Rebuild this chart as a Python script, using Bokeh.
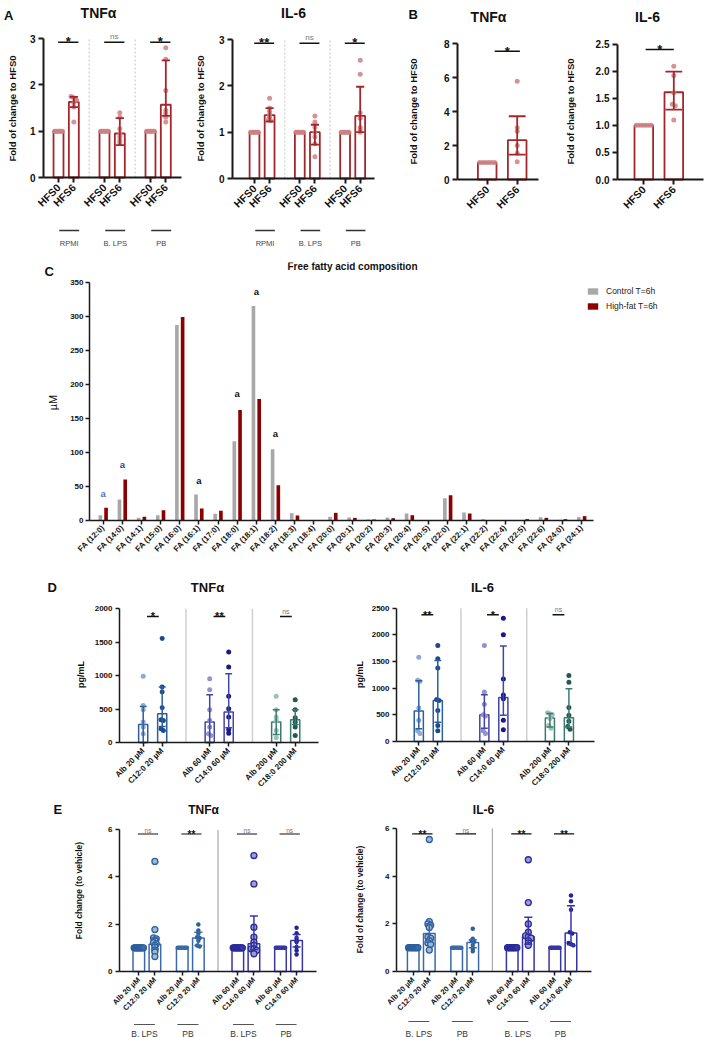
import numpy as np
from bokeh.plotting import figure
from bokeh.models import (Range1d, FixedTicker, Label, Legend, LegendItem,
                          PrintfTickFormatter)
from bokeh.layouts import row, column
from bokeh.embed import file_html
from bokeh.resources import INLINE
from bokeh.core.properties import value

FONT = "Liberation Sans"

# ======================= DATA =======================
# ---- Panel A (fold of change to HFS0) ----
A_groups = ["RPMI", "B. LPS", "PB"]
A_ticks = ["HFS0", "HFS6", "HFS0", "HFS6", "HFS0", "HFS6"]
A_tnf_mean = [1.0, 1.63, 1.0, 0.95, 1.0, 1.57]
A_tnf_lo = [1.0, 1.52, 1.0, 0.70, 1.0, 1.33]
A_tnf_hi = [1.0, 1.74, 1.0, 1.28, 1.0, 2.53]
A_tnf_pts = [
    [1.0, 1.0, 1.0, 1.0, 1.0, 1.0, 1.0],
    [1.75, 1.73, 1.70, 1.67, 1.62, 1.52, 1.20],
    [1.0, 1.0, 1.0, 1.0, 1.0, 1.0, 1.0],
    [1.40, 1.30, 1.05, 0.95, 0.88, 0.80, 0.74],
    [1.0, 1.0, 1.0, 1.0, 1.0, 1.0, 1.0],
    [2.80, 2.55, 1.88, 1.45, 1.38, 1.30, 1.20],
]
A_tnf_sig = ["*", "ns", "*"]
A_il6_mean = [1.0, 1.37, 1.0, 1.0, 1.0, 1.35]
A_il6_lo = [1.0, 1.23, 1.0, 0.73, 1.0, 1.0]
A_il6_hi = [1.0, 1.52, 1.0, 1.16, 1.0, 1.98]
A_il6_pts = [
    [1.0, 1.0, 1.0, 1.0, 1.0, 1.0, 1.0],
    [1.73, 1.52, 1.45, 1.38, 1.33, 1.28, 1.25],
    [1.0, 1.0, 1.0, 1.0, 1.0, 1.0, 1.0],
    [1.35, 1.22, 1.10, 1.00, 0.90, 0.75, 0.47],
    [1.0, 1.0, 1.0, 1.0, 1.0, 1.0, 1.0],
    [2.55, 2.25, 1.42, 1.30, 1.10, 1.05, 1.00],
]
A_il6_sig = ["**", "ns", "*"]

# ---- Panel B ----
B_ticks = ["HFS0", "HFS6"]
B_tnf_mean = [1.0, 2.32]
B_tnf_lo = [1.0, 1.47]
B_tnf_hi = [1.0, 3.73]
B_tnf_pts = [[1.0, 1.0, 1.0, 1.0, 1.0, 1.0], [5.8, 3.05, 2.85, 2.0, 1.55, 1.05]]
B_il6_mean = [1.0, 1.61]
B_il6_lo = [1.0, 1.29]
B_il6_hi = [1.0, 1.99]
B_il6_pts = [[1.0, 1.0, 1.0, 1.0, 1.0, 1.0], [2.09, 1.92, 1.60, 1.39, 1.36, 1.10]]

# ---- Panel C (free fatty acids, uM) ----
C_fa = ["FA (12:0)", "FA (14:0)", "FA (14:1)", "FA (15:0)", "FA (16:0)", "FA (16:1)",
        "FA (17:0)", "FA (18:0)", "FA (18:1)", "FA (18:2)", "FA (18:3)", "FA (18:4)",
        "FA (20:0)", "FA (20:1)", "FA (20:2)", "FA (20:3)", "FA (20:4)", "FA (20:5)",
        "FA (22:0)", "FA (22:1)", "FA (22:2)", "FA (22:4)", "FA (22:5)", "FA (22:6)",
        "FA (24:0)", "FA (24:1)"]
C_control = [7.8, 30.9, 3.9, 7.8, 288.0, 38.2, 9.8, 116.7, 315.7, 104.9, 10.8, 0.0,
             5.4, 4.4, 1.5, 4.4, 10.3, 0.0, 32.8, 11.8, 2.0, 0.0, 0.5, 4.9, 1.0, 4.9]
C_highfat = [18.6, 60.3, 5.4, 15.2, 299.5, 17.6, 14.2, 162.7, 178.9, 52.0, 7.4, 0.0,
             11.3, 3.9, 1.5, 3.4, 7.8, 0.0, 37.3, 10.3, 0.5, 0.0, 2.0, 3.9, 2.0, 6.4]
C_mark_idx = [0, 1, 5, 7, 8, 9]
C_mark_y = [44, 86, 63, 190, 341, 132]
C_mark_text = ["a", "a", "a", "a", "a", "a"]

# ---- Panel D (pg/mL) ----
D_ticks = ["Alb 20 µM", "C12:0 20 µM", "Alb 60 µM", "C14:0 60 µM", "Alb 200 µM", "C18:0 200 µM"]
D_tnf_mean = [270, 430, 305, 455, 305, 340]
D_tnf_lo = [0, 240, 0, 220, 120, 270]
D_tnf_hi = [540, 830, 715, 1030, 490, 490]
D_tnf_pts = [
    [990, 555, 490, 305, 230, 130],
    [1555, 830, 755, 520, 340, 330, 205, 180],
    [955, 790, 490, 330, 230, 130, 105],
    [1355, 1130, 690, 505, 380, 190, 140],
    [690, 490, 380, 330, 180, 70],
    [640, 490, 370, 305, 230, 105],
]
D_tnf_sig = ["*", "**", "ns"]
D_il6_mean = [570, 770, 500, 825, 440, 445]
D_il6_lo = [240, 360, 250, 490, 270, 270]
D_il6_hi = [1140, 1520, 875, 1790, 525, 990]
D_il6_pts = [
    [1580, 1150, 1130, 630, 400, 200, 150],
    [1800, 1550, 1380, 790, 770, 580, 300, 200],
    [1800, 930, 700, 500, 480, 200, 150],
    [2310, 2000, 1170, 870, 800, 400, 220],
    [540, 520, 500, 430, 300, 250],
    [1240, 1110, 640, 490, 380, 280, 230],
]
D_il6_sig = ["**", "*", "ns"]

# ---- Panel E (fold change to vehicle) ----
E_ticks = ["Alb 20 µM", "C12:0 20 µM", "Alb 20 µM", "C12:0 20 µM",
           "Alb 60 µM", "C14:0 60 µM", "Alb 60 µM", "C14:0 60 µM"]
E_groups = ["B. LPS", "PB", "B. LPS", "PB"]
ONES10 = [1.0, 1.0, 1.0, 1.0, 1.0, 1.0, 1.0, 1.0, 1.0, 1.0]
ONES8 = [1.0, 1.0, 1.0, 1.0, 1.0, 1.0, 1.0, 1.0]
E_tnf_mean = [1.0, 1.15, 1.0, 1.42, 1.0, 1.17, 1.0, 1.31]
E_tnf_lo = [1.0, 0.95, 1.0, 1.10, 1.0, 0.93, 1.0, 1.03]
E_tnf_hi = [1.0, 1.42, 1.0, 1.66, 1.0, 2.34, 1.0, 1.56]
E_tnf_pts = [
    ONES10,
    [4.65, 1.77, 1.42, 1.38, 1.31, 1.22, 1.17, 1.10, 1.03, 0.90, 0.82, 0.63],
    ONES8,
    [1.99, 1.73, 1.60, 1.45, 1.42, 1.30, 1.10, 1.06],
    ONES10,
    [4.90, 3.70, 1.87, 1.45, 1.24, 1.10, 0.96, 0.95, 0.89, 0.75],
    ONES8,
    [1.85, 1.62, 1.42, 1.31, 1.25, 1.03, 0.89, 0.72],
]
E_tnf_sig = ["ns", "**", "ns", "ns"]
E_il6_mean = [1.0, 1.60, 1.0, 1.22, 1.0, 1.47, 1.0, 1.62]
E_il6_lo = [1.0, 1.24, 1.0, 1.00, 1.0, 1.15, 1.0, 1.12]
E_il6_hi = [1.0, 2.00, 1.0, 1.33, 1.0, 2.28, 1.0, 2.77]
E_il6_pts = [
    ONES10,
    [5.55, 2.10, 2.00, 1.95, 1.85, 1.45, 1.40, 1.30, 1.20, 1.15, 0.90],
    ONES8,
    [1.80, 1.38, 1.30, 1.25, 1.10, 0.95, 0.85],
    ONES10,
    [4.70, 2.90, 2.00, 1.65, 1.50, 1.45, 1.40, 1.30, 1.20, 1.10],
    ONES8,
    [3.20, 2.95, 2.60, 1.65, 1.60, 1.20, 1.15, 1.10],
]
E_il6_sig = ["**", "ns", "**", "**"]

# ======================= STYLE / LAYOUT =======================
RED = "#a3262a"
RED_PT = "#cd8184"
AX = "#1a1a1a"


class Panel:
    """A figure whose frame fills its whole box; axes are drawn at fixed locations."""

    def __init__(self, box, x0px, xunit, y0px, yunit):
        self.box = box
        self.x0px, self.xunit, self.y0px, self.yunit = x0px, xunit, y0px, yunit
        bx0, by0, bx1, by1 = box
        xr = ((bx0 - x0px) / xunit, (bx1 - x0px) / xunit)
        yr = ((y0px - by1) / yunit, (y0px - by0) / yunit)
        p = figure(width=bx1 - bx0, height=by1 - by0,
                   x_range=Range1d(xr[0], xr[1]), y_range=Range1d(yr[0], yr[1]),
                   output_backend="svg", toolbar_location=None,
                   min_border=0, min_border_left=0, min_border_right=0,
                   min_border_top=0, min_border_bottom=0)
        p.outline_line_color = None
        p.xgrid.visible = False
        p.ygrid.visible = False
        self.p = p

    def X(self, px):
        return (px - self.x0px) / self.xunit

    def Y(self, py):
        return (self.y0px - py) / self.yunit


def style_axes(P, xt, xl, yt, ybounds, yaxis_px, xright_px, xfs, yfs, lw=1.5,
               tick_out=4, yfmt=None, standoff=3):
    p = P.p
    xa, ya = p.xaxis[0], p.yaxis[0]
    xa.fixed_location = 0
    ya.fixed_location = P.X(yaxis_px)
    xa.bounds = (P.X(yaxis_px), P.X(xright_px))
    ya.bounds = ybounds
    xa.ticker = FixedTicker(ticks=[float(t) for t in xt])
    xa.major_label_overrides = {(int(t) if float(t).is_integer() else float(t)): s
                                for t, s in zip(xt, xl)}
    xa.major_label_orientation = np.pi / 4
    for a, fs in ((xa, xfs), (ya, yfs)):
        a.major_label_text_font = FONT
        a.major_label_text_font_size = fs
        a.major_label_text_font_style = "bold"
        a.major_label_text_color = "#111111"
        a.major_tick_out = tick_out
        a.major_tick_in = 0
        a.minor_tick_line_color = None
        a.axis_line_width = lw
        a.major_tick_line_width = lw
        a.axis_line_color = AX
        a.major_tick_line_color = AX
        a.major_label_standoff = standoff
    ya.ticker = FixedTicker(ticks=yt)
    if yfmt is not None:
        ya.formatter = PrintfTickFormatter(format=yfmt)


def swarm(vals, tol, step, maxw):
    vals = np.asarray(vals, dtype=float)
    order = np.argsort(-vals, kind="stable")
    offs = np.zeros(len(vals))
    clusters = []
    for i in order:
        if clusters and abs(vals[clusters[-1][-1]] - vals[i]) <= tol:
            clusters[-1].append(i)
        else:
            clusters.append([i])
    for c in clusters:
        n = len(c)
        st = min(step, maxw / max(n - 1, 1))
        for k, i in enumerate(c):
            offs[i] = (k - (n - 1) / 2) * st
    return offs


def bars(p, pos, means, lo, hi, pts, bar_col, pt_fill, pt_line, width, cap,
         psize, tol, step, lw=1.5, pt_lw=0.0, pt_alpha=1.0):
    p.vbar(x=pos, top=means, bottom=0, width=width, fill_color=None,
           line_color=bar_col, line_width=lw)
    for i, x in enumerate(pos):
        vals = pts[i]
        offs = swarm(vals, tol, step, width * 0.8)
        p.scatter(x=[x + o for o in offs], y=vals, size=psize, marker="circle",
                  fill_color=pt_fill[i], fill_alpha=pt_alpha,
                  line_color=(pt_line[i] if pt_lw > 0 else None), line_width=pt_lw)
    idx = [i for i in range(len(pos)) if hi[i] > lo[i]]
    ex = [pos[i] for i in idx]
    el = [lo[i] for i in idx]
    eh = [hi[i] for i in idx]
    ec = [bar_col[i] for i in idx]
    p.segment(x0=ex, y0=el, x1=ex, y1=eh, line_color=ec, line_width=lw)
    p.segment(x0=[x - cap for x in ex], y0=eh, x1=[x + cap for x in ex], y1=eh,
              line_color=ec, line_width=lw)
    p.segment(x0=[x - cap for x in ex], y0=el, x1=[x + cap for x in ex], y1=el,
              line_color=ec, line_width=lw)


def sig(p, x0s, x1s, y, texts, star_fs, ns_fs, star_off, ns_off, lw=1.5):
    n = len(x0s)
    p.segment(x0=x0s, y0=[y] * n, x1=x1s, y1=[y] * n, line_color="#111111", line_width=lw)
    for a, b, t in zip(x0s, x1s, texts):
        cx = (a + b) / 2
        if t == "ns":
            p.text(x=[cx], y=[y], text=[t], text_align="center", text_baseline="alphabetic",
                   text_font=value(FONT), text_font_size=ns_fs, text_color="#777777",
                   y_offset=ns_off)
        else:
            p.text(x=[cx], y=[y], text=[t], text_align="center", text_baseline="alphabetic",
                   text_font=value(FONT), text_font_size=star_fs, text_font_style="bold",
                   text_color="#111111", y_offset=star_off)


def lab(P, X, Y, text, fs, bold=True, align="center", base="alphabetic",
        angle=0.0, color="#111111"):
    bx0, by0, bx1, by1 = P.box
    P.p.add_layout(Label(x=X - bx0, y=by1 - Y, x_units="screen", y_units="screen",
                         text=text, text_font=FONT, text_font_size=fs,
                         text_font_style=("bold" if bold else "normal"),
                         text_align=align, text_baseline=base, angle=angle,
                         text_color=color))


def group_labels(P, centers, lefts, rights, texts, line_y, text_y, fs,
                 color="#333333", line_col="#333333", lw=1.4):
    p = P.p
    yl = P.Y(line_y)
    n = len(centers)
    p.segment(x0=lefts, y0=[yl] * n, x1=rights, y1=[yl] * n, line_color=line_col,
              line_width=lw)
    p.text(x=centers, y=[P.Y(text_y)] * n, text=texts, text_align="center",
           text_baseline="alphabetic", text_font=value(FONT), text_font_size=fs,
           text_color=color)


# ======================= PANEL A =======================
A_pos = [0, 1, 3, 4, 6, 7]
A_base = [0, 3, 6]


def panel_A(box, x0px, xunit, y0px, yaxis_px, xright_px, means, lo, hi, pts, sigs,
            title, tx, ty, ylx, letter):
    P = Panel(box, x0px, xunit, y0px, 46.33)
    p = P.p
    style_axes(P, A_pos, A_ticks, [0, 1, 2, 3], (0, 3), yaxis_px, xright_px,
               "10.5px", "10px", lw=2, tick_out=5)
    p.segment(x0=[2, 5], y0=[0, 0], x1=[2, 5], y1=[3, 3], line_color="#c4c4c4",
              line_dash="2 2", line_width=1)
    bars(p, A_pos, means, lo, hi, pts, [RED] * 6, [RED_PT] * 6, [RED_PT] * 6,
         width=0.65, cap=0.27, psize=5, tol=0.04, step=0.12, lw=1.8, pt_alpha=0.85)
    sig(p, [b - 0.02 for b in A_base], [b + 1.3 for b in A_base], 2.92, sigs,
        "13px", "8px", -1, -6)
    group_labels(P, [b + 0.7 for b in A_base], [b + 0.05 for b in A_base],
                 [b + 1.35 for b in A_base], A_groups, 230, 242.5, "7.5px",
                 color="#444444", line_col="#333333")
    lab(P, tx, ty, title, "14px")
    lab(P, ylx, 108, "Fold of change to HFS0", "9.5px", base="middle", angle=np.pi / 2)
    if letter:
        lab(P, 3.5, 15, letter, "13px", align="left")
    return p


pA1 = panel_A((0, 0, 188, 262), 58, 15.33, 177, 43, 181,
              A_tnf_mean, A_tnf_lo, A_tnf_hi, A_tnf_pts, A_tnf_sig, "TNFα", 98, 12, 12, "A")
pA2 = panel_A((188, 0, 378, 262), 254, 15.1, 178, 232, 374,
              A_il6_mean, A_il6_lo, A_il6_hi, A_il6_pts, A_il6_sig, "IL-6", 293, 12, 200, None)

# ======================= PANEL B =======================
B_pos = [0, 1]
PB1 = Panel((378, 0, 560, 262), 486.7, 30, 179, 16.96)
pB1 = PB1.p
style_axes(PB1, B_pos, B_ticks, [0, 2, 4, 6, 8], (0, 8), 457, 538, "10.5px", "10px",
           lw=2, tick_out=5)
bars(pB1, B_pos, B_tnf_mean, B_tnf_lo, B_tnf_hi, B_tnf_pts, [RED] * 2, [RED_PT] * 2,
     [RED_PT] * 2, width=0.62, cap=0.28, psize=5, tol=0.12, step=0.1, lw=1.8, pt_alpha=0.85)
sig(pB1, [0.25], [1.09], 7.56, ["*"], "13px", "8px", 0, -6)
lab(PB1, 488, 16.5, "TNFα", "14px")
lab(PB1, 413, 111, "Fold of change to HFS0", "9.5px", base="middle", angle=np.pi / 2)
lab(PB1, 408, 14, "B", "13px", align="left")

PB2 = Panel((560, 0, 705, 262), 643.3, 30, 179, 54.2)
pB2 = PB2.p
style_axes(PB2, B_pos, B_ticks, [0, 0.5, 1.0, 1.5, 2.0, 2.5], (0, 2.5), 617, 703,
           "10.5px", "10px", lw=2, tick_out=5, yfmt="%.1f")
bars(pB2, B_pos, B_il6_mean, B_il6_lo, B_il6_hi, B_il6_pts, [RED] * 2, [RED_PT] * 2,
     [RED_PT] * 2, width=0.62, cap=0.28, psize=5, tol=0.04, step=0.1, lw=1.8, pt_alpha=0.85)
sig(pB2, [0.06], [1.0], 2.40, ["*"], "13px", "8px", 0, -6)
lab(PB2, 647, 16.5, "IL-6", "14px")
lab(PB2, 570, 111, "Fold of change to HFS0", "9.5px", base="middle", angle=np.pi / 2)

# ======================= PANEL C =======================
PC = Panel((0, 262, 705, 560), 102.7, 19.14, 520, 0.6791)
pC = PC.p
C_pos = list(range(len(C_fa)))
style_axes(PC, C_pos, C_fa, [0, 50, 100, 150, 200, 250, 300, 350], (0, 350), 89, 593,
           "8px", "8px", lw=1.5, tick_out=4, standoff=2)
rc = pC.vbar(x=[x - 0.15 for x in C_pos], top=C_control, width=0.19, bottom=0,
             fill_color="#a8a8a8", line_color=None)
rh = pC.vbar(x=[x + 0.15 for x in C_pos], top=C_highfat, width=0.19, bottom=0,
             fill_color="#8b0000", line_color=None)
mark_cols = ["#4a78b5", "#2f3fae", "#111111", "#111111", "#111111", "#111111"]
pC.text(x=C_mark_idx, y=C_mark_y, text=C_mark_text, text_align="center",
        text_baseline="alphabetic", text_font=value(FONT), text_font_size="9.5px",
        text_font_style="bold", text_color=mark_cols, y_offset=2.5)
leg = Legend(items=[LegendItem(label="Control T=6h", renderers=[rc]),
                    LegendItem(label="High-fat T=6h", renderers=[rh])],
             location=(586, 249))
leg.background_fill_alpha = 0
leg.border_line_color = None
leg.padding = 0
leg.margin = 0
leg.spacing = 5
leg.glyph_width = 13
leg.glyph_height = 8
leg.label_height = 10
leg.label_standoff = 7
leg.label_text_font = FONT
leg.label_text_font_size = "8.5px"
leg.label_text_color = "#222222"
pC.add_layout(leg)
lab(PC, 352, 266, "Free fatty acid composition", "10px")
lab(PC, 44, 271, "C", "13px", align="left")
lab(PC, 52, 402, "µM", "11px", bold=False, base="middle", angle=np.pi / 2)

# ======================= PANEL D =======================
D_pos_t = [0, 1, 3.5, 4.5, 7, 8]
D_pos_i = [0, 1, 3.45, 4.45, 6.9, 7.9]
D_bar = ["#2d5f9c", "#2d5f9c", "#4343a8", "#4343a8", "#3b7b6f", "#3b7b6f"]
D_ptc = ["#8fa9d1", "#1d4a8c", "#9292cf", "#1a1a88", "#9cc2b8", "#24594f"]


def panel_D(box, x0px, yunit, y0px, yaxis_px, xright_px, pos, means, lo, hi, pts, sigs,
            ymax, seps, sig_y, sig_l, sig_r, title, tx, ylx, letter):
    P = Panel(box, x0px, 19, y0px, yunit)
    p = P.p
    yt = list(range(0, ymax + 1, 500))
    style_axes(P, pos, D_ticks, yt, (0, ymax), yaxis_px, xright_px, "8px", "8px",
               lw=1.5, tick_out=4)
    p.segment(x0=seps, y0=[0, 0], x1=seps, y1=[ymax, ymax], line_color="#cfcfcf",
              line_width=1.5)
    bars(p, pos, means, lo, hi, pts, D_bar, D_ptc, D_ptc, width=0.48, cap=0.18,
         psize=5, tol=ymax * 0.02, step=0.12, lw=1.5)
    sig(p, [pos[0] + sig_l, pos[2] + sig_l, pos[4] + sig_l],
        [pos[0] + sig_r, pos[2] + sig_r, pos[4] + sig_r], sig_y, sigs,
        "11px", "7px", 0, -5, lw=1.5)
    lab(P, tx, 587, title, "13px")
    lab(P, ylx, 674, "pg/mL", "9px", base="middle", angle=np.pi / 2)
    if letter:
        lab(P, 47, 587, letter, "13px", align="left")
    return p


pD1 = panel_D((0, 560, 352, 800), 142.7, 0.06685, 742, 119, 318, D_pos_t,
              D_tnf_mean, D_tnf_lo, D_tnf_hi, D_tnf_pts, D_tnf_sig, 2000, [2.25, 5.75],
              1885, 0.2, 0.82, "TNFα", 207, 80, "D")
pD2 = panel_D((352, 560, 705, 800), 418.3, 0.05332, 741, 396, 594, D_pos_i,
              D_il6_mean, D_il6_lo, D_il6_hi, D_il6_pts, D_il6_sig, 2500, [2.22, 5.68],
              2375, 0.14, 0.76, "IL-6", 482, 359, None)

# ======================= PANEL E =======================
E_pos = [0, 1, 2.7, 3.7, 6.15, 7.15, 8.8, 9.8]
E_base = [0, 2.7, 6.15, 8.8]
E_bar = ["#3a6aa8"] * 4 + ["#3636a6"] * 4
E_fill = ["#3a6aa8", "#9fb7d8", "#3a6aa8", "#2d5f9c",
          "#3636a6", "#9d9dd6", "#3636a6", "#24249a"]
E_line = ["#2d5f9c", "#2d5f9c", "#2d5f9c", "#2d5f9c",
          "#2a2a9a", "#2a2a9a", "#2a2a9a", "#2a2a9a"]


def panel_E(box, x0px, yunit, yaxis_px, xright_px, means, lo, hi, pts, sigs, sig_y,
            title, tx, ylx, ylabel, yly, line_y, letter):
    P = Panel(box, x0px, 16.1, 971, yunit)
    p = P.p
    style_axes(P, E_pos, E_ticks, [0, 2, 4, 6], (0, 6), yaxis_px, xright_px, "7.5px", "8px",
               lw=1.5, tick_out=4)
    p.segment(x0=[4.92], y0=[0], x1=[4.92], y1=[6], line_color="#555555",
              line_dash="1 1", line_width=1.2)
    lps = [0, 1, 4, 5]
    pbi = [2, 3, 6, 7]
    bars(p, [E_pos[i] for i in lps], [means[i] for i in lps], [lo[i] for i in lps],
         [hi[i] for i in lps], [pts[i] for i in lps], [E_bar[i] for i in lps],
         [E_fill[i] for i in lps], [E_line[i] for i in lps], width=0.72, cap=0.25,
         psize=6, tol=0.06, step=0.17, lw=1.5, pt_lw=1.3)
    bars(p, [E_pos[i] for i in pbi], [means[i] for i in pbi], [lo[i] for i in pbi],
         [hi[i] for i in pbi], [pts[i] for i in pbi], [E_bar[i] for i in pbi],
         [E_fill[i] for i in pbi], [E_line[i] for i in pbi], width=0.72, cap=0.25,
         psize=4.5, tol=0.06, step=0.15, lw=1.5)
    sig(p, [b - 0.06 for b in E_base], [b + 1.2 for b in E_base], sig_y, sigs,
        "10px", "6.5px", 1, -3, lw=1.2)
    group_labels(P, [b + 0.35 for b in E_base], [b - 0.3 for b in E_base],
                 [b + 1.0 for b in E_base], E_groups, line_y, 1033, "8.5px",
                 color="#333333", line_col="#555555", lw=1.0)
    lab(P, tx, 809, title, "12px")
    lab(P, ylx, yly, ylabel, "8.5px", base="middle", angle=np.pi / 2)
    if letter:
        lab(P, 53, 809, letter, "13px", align="left")
    return p


pE1 = panel_E((0, 800, 352, 1037), 138.3, 23.67, 119, 316,
              E_tnf_mean, E_tnf_lo, E_tnf_hi, E_tnf_pts, E_tnf_sig, 5.81,
              "TNFα", 203, 78, "Fold change (to vehicle)", 890, 1024, "E")
pE2 = panel_E((352, 800, 705, 1037), 412.7, 23.78, 396, 591,
              E_il6_mean, E_il6_lo, E_il6_hi, E_il6_pts, E_il6_sig, 5.79,
              "IL-6", 483, 359, "Fold of change (to vehicle)", 899, 1021, None)

layout = column(row(pA1, pA2, pB1, pB2), pC, row(pD1, pD2), row(pE1, pE2))
open("out.html", "w").write(file_html(layout, INLINE))
